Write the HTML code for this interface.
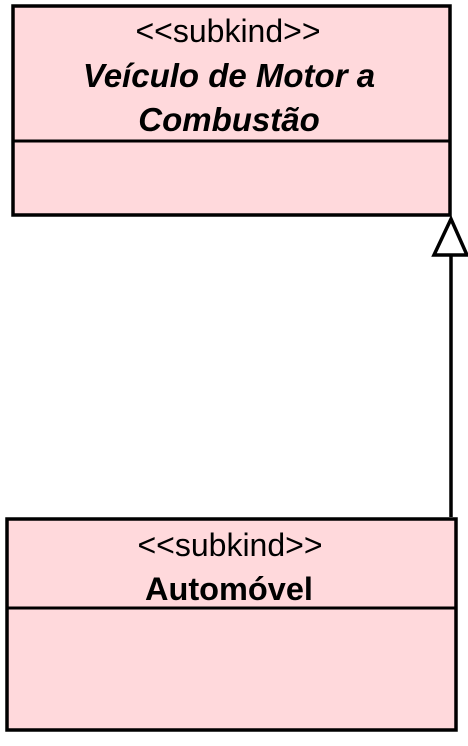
<!DOCTYPE html>
<html><head><meta charset="utf-8"><style>
body{margin:0;width:468px;height:741px;background:#fff;overflow:hidden}
</style></head><body>
<svg width="468" height="741" xmlns="http://www.w3.org/2000/svg" font-family="Liberation Sans, Arial, sans-serif">
<rect x="13" y="6" width="437" height="209" fill="#ffd9dc" stroke="#000" stroke-width="3.5"/>
<line x1="13" y1="141" x2="450" y2="141" stroke="#000" stroke-width="3"/>
<text x="228" y="42" font-size="32" text-anchor="middle">&lt;&lt;subkind&gt;&gt;</text>
<text x="229" y="87" font-size="33" font-weight="bold" font-style="italic" text-anchor="middle">Veículo de Motor a</text>
<text x="229" y="131" font-size="33" font-weight="bold" font-style="italic" text-anchor="middle">Combustão</text>
<line x1="451" y1="255" x2="451" y2="517" stroke="#000" stroke-width="3.5"/>
<polygon points="451,219 434,255 467,255" fill="#fff" stroke="#000" stroke-width="3.5"/>
<rect x="7" y="519" width="449" height="211" fill="#ffd9dc" stroke="#000" stroke-width="3.5"/>
<line x1="7" y1="608" x2="456" y2="608" stroke="#000" stroke-width="3"/>
<text x="230" y="556" font-size="32" text-anchor="middle">&lt;&lt;subkind&gt;&gt;</text>
<text x="229" y="600" font-size="32.5" font-weight="bold" text-anchor="middle">Automóvel</text>
</svg>
</body></html>
